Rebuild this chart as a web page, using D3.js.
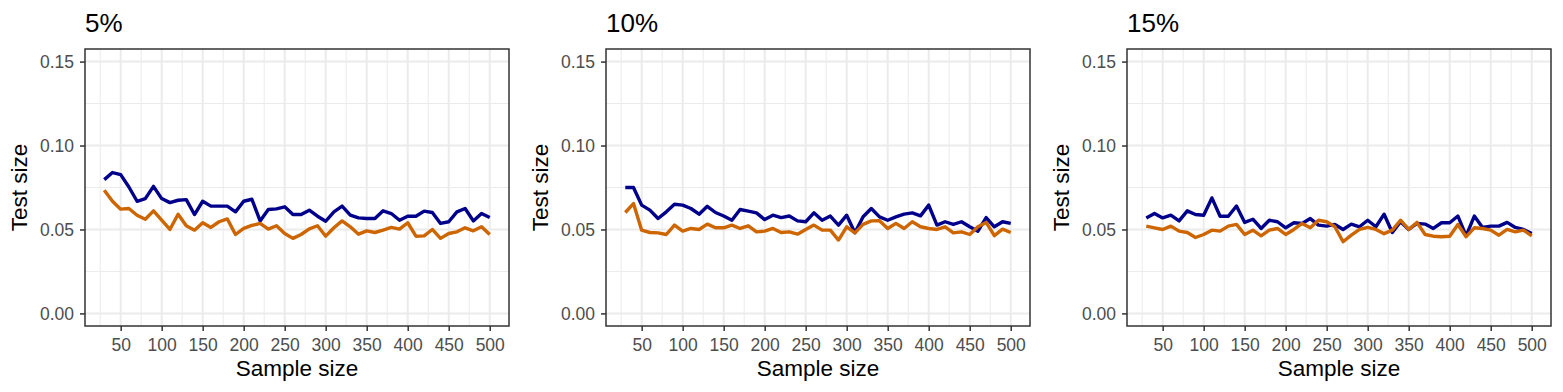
<!DOCTYPE html>
<html><head><meta charset="utf-8">
<script src="https://cdn.jsdelivr.net/npm/d3@7"></script>
<style>body{margin:0;background:#fff}svg{display:block}</style>
</head><body>
<svg id="c" width="1563" height="392"></svg>
<script>
const sampleSizes = d3.range(30, 501, 10);
const panelTitles = ["5%", "10%", "15%"];
const yTicks = [0.00, 0.05, 0.10, 0.15];
const xTicks = [50,100,150,200,250,300,350,400,450,500];

const blue5 = [0.0797,0.0839,0.0827,0.0753,0.0668,0.0684,0.0757,0.0684,0.066,0.0674,0.0678,0.0589,0.0668,0.0639,0.0639,0.0639,0.0605,0.0668,0.068,0.0551,0.0619,0.0623,0.0635,0.0589,0.0589,0.0615,0.0579,0.0549,0.0605,0.0639,0.0585,0.0569,0.0565,0.0565,0.0611,0.0595,0.0555,0.0579,0.0579,0.0609,0.0601,0.0536,0.0546,0.0605,0.0625,0.0551,0.0595,0.0571];
const orange5 = [0.0734,0.0668,0.0621,0.0625,0.0585,0.0561,0.0611,0.0555,0.05,0.0591,0.0522,0.0496,0.054,0.0512,0.0546,0.0563,0.047,0.0506,0.0524,0.0536,0.0502,0.0522,0.0476,0.0447,0.047,0.0504,0.0522,0.046,0.051,0.0551,0.0516,0.0472,0.0492,0.0482,0.0496,0.0512,0.0502,0.054,0.046,0.0462,0.05,0.0447,0.0476,0.0486,0.051,0.0492,0.0516,0.047];
const blue10 = [0.075,0.075,0.0645,0.0615,0.0565,0.0605,0.065,0.0645,0.0625,0.0591,0.0638,0.0601,0.058,0.0555,0.0619,0.0609,0.0599,0.0559,0.0585,0.0571,0.058,0.0551,0.0546,0.0599,0.0555,0.058,0.0526,0.0585,0.048,0.0576,0.0625,0.0575,0.0555,0.0575,0.0591,0.0599,0.0581,0.0645,0.0526,0.0546,0.053,0.0546,0.0516,0.049,0.0571,0.0516,0.0546,0.0536];
const orange10 = [0.0601,0.0654,0.0496,0.0482,0.048,0.047,0.0526,0.049,0.0506,0.05,0.0532,0.051,0.051,0.0526,0.0506,0.0522,0.0486,0.049,0.0506,0.0482,0.0486,0.0472,0.05,0.0526,0.0496,0.0496,0.0437,0.0516,0.048,0.053,0.0551,0.0552,0.0506,0.0536,0.0506,0.0546,0.0516,0.0506,0.05,0.0516,0.048,0.0486,0.047,0.0516,0.0542,0.0463,0.0502,0.0482];
const blue15 = [0.0569,0.0595,0.0569,0.0585,0.0551,0.0611,0.0589,0.0585,0.0688,0.0579,0.0579,0.064,0.0542,0.0561,0.0506,0.0555,0.0546,0.051,0.054,0.0536,0.0565,0.0526,0.052,0.053,0.05,0.0532,0.0516,0.0555,0.0516,0.0591,0.0482,0.0546,0.05,0.0536,0.0532,0.0506,0.054,0.054,0.058,0.0462,0.058,0.0512,0.052,0.052,0.0542,0.0512,0.05,0.0476];
const orange15 = [0.052,0.051,0.05,0.052,0.049,0.0482,0.0452,0.047,0.0496,0.049,0.052,0.053,0.047,0.0496,0.0462,0.0496,0.0506,0.047,0.05,0.0536,0.051,0.0555,0.0546,0.0516,0.0427,0.0466,0.05,0.0512,0.05,0.0475,0.0496,0.0555,0.05,0.0542,0.047,0.046,0.0457,0.046,0.053,0.0457,0.051,0.0506,0.0496,0.0466,0.05,0.0486,0.0496,0.0462];

const panels = [
  {title: panelTitles[0], blue: blue5, orange: orange5},
  {title: panelTitles[1], blue: blue10, orange: orange10},
  {title: panelTitles[2], blue: blue15, orange: orange15}
];

const svg = d3.select("#c");
const pw = 424, ph = 277, topY = 49;
const lefts = [85, 606, 1127];
const font = "Liberation Sans, Arial, Helvetica, sans-serif";

const x = d3.scaleLinear().domain([30 - 23.5, 500 + 23.5]).range([0, pw]);
const y = d3.scaleLinear().domain([-0.0075, 0.1575]).range([ph, 0]);
const xMinor = [25,75,125,175,225,275,325,375,425,475];
const yMinor = [0.025, 0.075, 0.125];

panels.forEach((p, i) => {
  const g = svg.append("g").attr("transform", `translate(${lefts[i]},${topY})`);
  g.selectAll(".ymin").data(yMinor).join("line")
    .attr("x1", 0).attr("x2", pw).attr("y1", d => y(d)).attr("y2", d => y(d))
    .attr("stroke", "#EBEBEB").attr("stroke-width", 1);
  g.selectAll(".xmin").data(xMinor).join("line")
    .attr("y1", 0).attr("y2", ph).attr("x1", d => x(d)).attr("x2", d => x(d))
    .attr("stroke", "#EBEBEB").attr("stroke-width", 1);
  g.selectAll(".ymaj").data(yTicks).join("line")
    .attr("x1", 0).attr("x2", pw).attr("y1", d => y(d)).attr("y2", d => y(d))
    .attr("stroke", "#EBEBEB").attr("stroke-width", 2);
  g.selectAll(".xmaj").data(xTicks).join("line")
    .attr("y1", 0).attr("y2", ph).attr("x1", d => x(d)).attr("x2", d => x(d))
    .attr("stroke", "#EBEBEB").attr("stroke-width", 2);

  const line = d3.line().x((d, j) => x(sampleSizes[j])).y(d => y(d));
  g.append("path").datum(p.blue).attr("d", line).attr("fill", "none")
    .attr("stroke", "#00008B").attr("stroke-width", 3.4).attr("stroke-linejoin", "round");
  g.append("path").datum(p.orange).attr("d", line).attr("fill", "none")
    .attr("stroke", "#CD6600").attr("stroke-width", 3.4).attr("stroke-linejoin", "round");

  g.append("rect").attr("x", 0).attr("y", 0).attr("width", pw).attr("height", ph)
    .attr("fill", "none").attr("stroke", "#333333").attr("stroke-width", 1.5);

  const xa = g.append("g").attr("transform", `translate(0,${ph})`)
    .call(d3.axisBottom(x).tickValues(xTicks).tickSize(5).tickPadding(4).tickFormat(d3.format("d")));
  const ya = g.append("g")
    .call(d3.axisLeft(y).tickValues(yTicks).tickSize(5).tickPadding(6).tickFormat(d3.format(".2f")));
  [xa, ya].forEach(a => {
    a.select(".domain").remove();
    a.selectAll(".tick line").attr("stroke", "#333333").attr("stroke-width", 1.5);
    a.selectAll(".tick text").attr("fill", "#4D4D4D").style("font-family", font).style("font-size", "17.5px");
  });
  xa.selectAll(".tick text").attr("dy", "0.9em");

  g.append("text").attr("x", 0).attr("y", -17).text(p.title)
    .style("font-family", font).style("font-size", "26px").attr("fill", "#000");
  g.append("text").attr("x", pw / 2).attr("y", ph + 50).attr("text-anchor", "middle")
    .text("Sample size").style("font-family", font).style("font-size", "22.5px").attr("fill", "#000");
  g.append("text").attr("transform", `translate(-58,${ph / 2}) rotate(-90)`)
    .attr("text-anchor", "middle").text("Test size")
    .style("font-family", font).style("font-size", "22.5px").attr("fill", "#000");
});
</script>
</body></html>
